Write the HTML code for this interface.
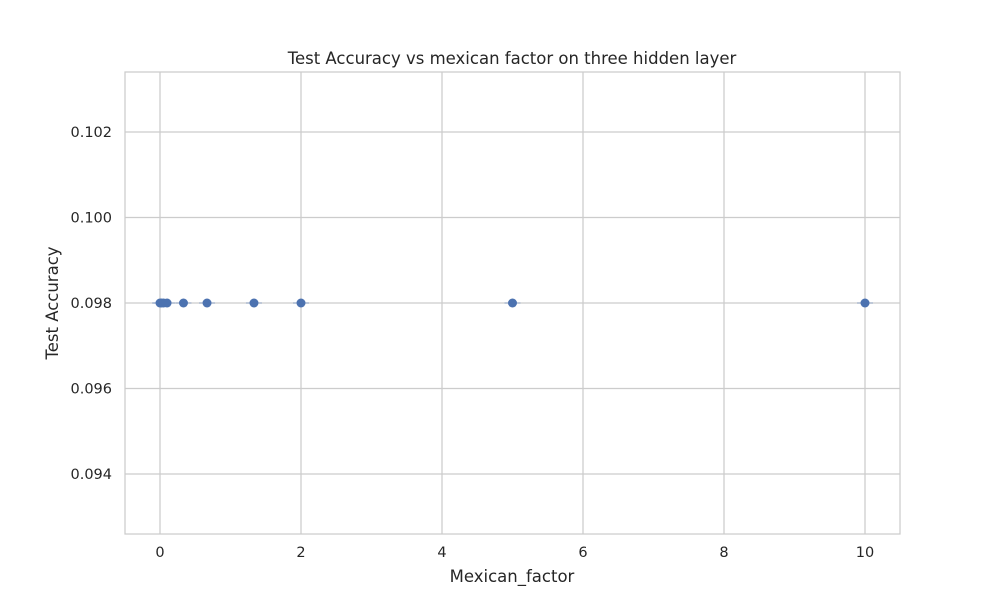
<!DOCTYPE html>
<html><head><meta charset="utf-8"><style>
body{margin:0;background:#fff;font-family:"Liberation Sans","DejaVu Sans",sans-serif}
text{font-family:"DejaVu Sans","Liberation Sans",sans-serif;fill:#262626}
</style></head><body>
<svg width="1000" height="600">
<rect width="1000" height="600" fill="#fff"/>
<g id="grid"></g>
<rect x="125" y="72" width="775" height="462" fill="none" stroke="#cccccc" stroke-width="1.25"/>
<g id="marks"></g>
<text x="512" y="64" text-anchor="middle" font-size="16.5">Test Accuracy vs mexican factor on three hidden layer</text>
<text x="512" y="582" text-anchor="middle" font-size="16.5">Mexican_factor</text>
<text transform="translate(58,303) rotate(-90)" text-anchor="middle" font-size="16.5">Test Accuracy</text>
</svg>
<script>
const xTicks=[0,2,4,6,8,10];
const yTicks=[0.094,0.096,0.098,0.100,0.102];
const yTickLabels=["0.094","0.096","0.098","0.100","0.102"];
const factors=[0,0.02,0.05,0.1,0.333,0.667,1.333,2,5,10];
const accuracy=[0.098,0.098,0.098,0.098,0.098,0.098,0.098,0.098,0.098,0.098];
const NS="http://www.w3.org/2000/svg";
const xs=v=>160+(v)*70.5;
const ys=v=>303-(v-0.098)/0.002*85.5;
const grid=document.getElementById('grid'),marks=document.getElementById('marks');
function mk(tag,attrs,parent){const e=document.createElementNS(NS,tag);for(const k in attrs)e.setAttribute(k,attrs[k]);parent.appendChild(e);return e;}
xTicks.forEach(t=>{
 const l=mk('line',{x1:xs(t),x2:xs(t),y1:72,y2:534,stroke:'#cccccc','stroke-width':1.25},grid);
 
 
 const tx=mk('text',{x:xs(t),y:557,'text-anchor':'middle','font-size':14.5},grid);tx.textContent=String(t);
 
 
});
yTicks.forEach((t,i)=>{
 const l=mk('line',{x1:125,x2:900,y1:ys(t),y2:ys(t),stroke:'#cccccc','stroke-width':1.25},grid);
 
 
 const tx=mk('text',{x:112,y:ys(t)+5,'text-anchor':'end','font-size':14.5},grid);tx.textContent=yTickLabels[i];
 
 
});
factors.forEach((f,i)=>{
 const l=mk('line',{x1:xs(f)-8,x2:xs(f)+8,y1:ys(accuracy[i]),y2:ys(accuracy[i]),stroke:'#4c72b0','stroke-width':1,opacity:0.5},marks);
 
 
 const c=mk('circle',{cx:xs(f),cy:ys(accuracy[i]),r:4.5,fill:'#4c72b0'},marks);
 
 
});
</script>
</body></html>
